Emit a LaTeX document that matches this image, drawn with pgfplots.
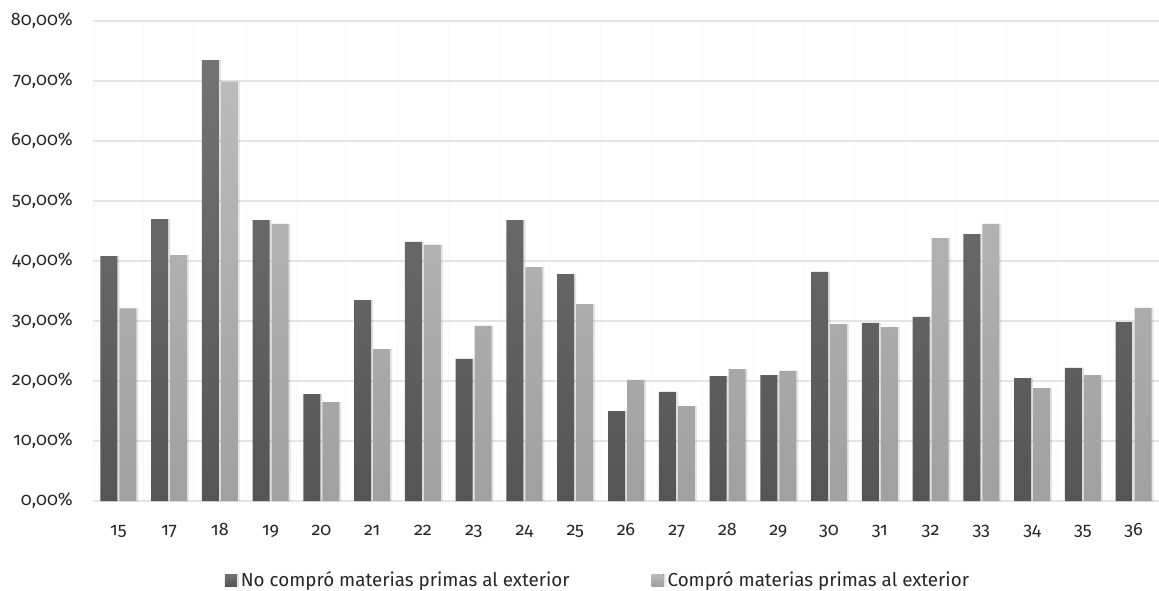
\documentclass[border=0pt]{standalone}
\usepackage{pgfplots}
\pgfplotsset{compat=1.18}
\usepackage{fontspec}
\setmainfont{Fira Sans}[Numbers=OldStyle]
\definecolor{darktop}{HTML}{737373}
\definecolor{darkbot}{HTML}{555555}
\definecolor{lighttop}{HTML}{BBBBBB}
\definecolor{lightbot}{HTML}{A0A0A0}
\definecolor{gridc}{HTML}{E4E4E4}
\begin{document}
\begin{tikzpicture}[x=1pt,y=1pt]
\useasboundingbox (0,0) rectangle (1159,590);
\begin{axis}[
  at={(93pt,89pt)}, anchor=south west,
  scale only axis, width=1066pt, height=480pt,
  ymin=0, ymax=80, xmin=-0.5, xmax=20.5,
  ybar=2pt, bar width=17pt,
  ytick={0,10,...,80},
  yticklabels={0{,}00\%,10{,}00\%,20{,}00\%,30{,}00\%,40{,}00\%,50{,}00\%,60{,}00\%,70{,}00\%,80{,}00\%},
  xtick={0,...,20},
  xticklabels={15,17,18,19,20,21,22,23,24,25,26,27,28,29,30,31,32,33,34,35,36},
  minor xtick={-0.5,0.5,...,20.5},
  /pgf/number format/assume math mode=true,
  axis line style={draw=none},
  major tick length=0pt, minor tick length=0pt,
  ymajorgrids, xminorgrids,
  major grid style={gridc, line width=1.4pt},
  minor grid style={black!2.5, line width=0.8pt},
  tick label style={font=\fontsize{18}{22}\selectfont, text=black!85},
  yticklabel style={anchor=east, inner sep=0pt, xshift=-20pt},
  xticklabel style={anchor=base, inner sep=0pt, yshift=-34pt},
  legend style={at={(0.4737,-0.1646)}, anchor=center, draw=none, fill=none,
    legend columns=2, font=\fontsize{18.8}{24}\selectfont, text=black!85,
    /tikz/every even column/.append style={column sep=80pt}},
  legend image code/.code={\fill[#1] (0pt,-6pt) rectangle (12pt,6pt); \path (0pt,0pt) -- (14pt,0pt);},
  legend cell align=left,
]
\addplot[draw=none, top color=darktop, bottom color=darkbot,
  preaction={fill=black, opacity=0.08, transform canvas={xshift=2pt}}] coordinates {
(0,40.8) (1,47.0) (2,73.5) (3,46.8) (4,17.8) (5,33.5) (6,43.2) (7,23.7) (8,46.8) (9,37.8) (10,15.0)
(11,18.2) (12,20.8) (13,21.0) (14,38.2) (15,29.7) (16,30.7) (17,44.5) (18,20.5) (19,22.2) (20,29.8)};
\addlegendentry{No compró materias primas al exterior}
\addplot[draw=none, top color=lighttop, bottom color=lightbot,
  preaction={fill=black, opacity=0.08, transform canvas={xshift=2pt}}] coordinates {
(0,32.1) (1,41.0) (2,69.9) (3,46.2) (4,16.5) (5,25.3) (6,42.7) (7,29.2) (8,39.0) (9,32.8) (10,20.2)
(11,15.8) (12,22.0) (13,21.7) (14,29.5) (15,29.0) (16,43.8) (17,46.2) (18,18.8) (19,21.0) (20,32.2)};
\addlegendentry{Compró materias primas al exterior}
\end{axis}
\end{tikzpicture}
\end{document}
